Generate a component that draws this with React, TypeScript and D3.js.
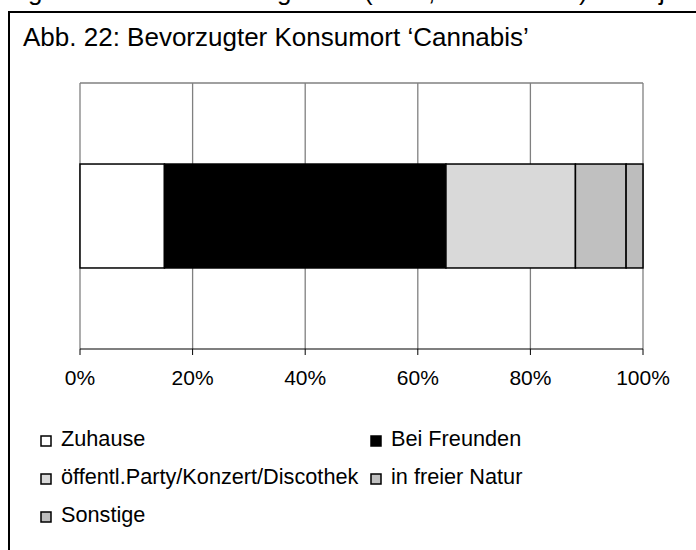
import { useMemo } from "react";
import * as d3 from "d3";

const WIDTH = 696;
const HEIGHT = 550;
const MARGIN = { top: 83, right: 53, bottom: 201, left: 80 };

const TITLE = "Abb. 22: Bevorzugter Konsumort \u2018Cannabis\u2019";
const CATEGORY = ["Cannabis"];
const SERIES = [
  "Zuhause",
  "Bei Freunden",
  "öffentl.Party/Konzert/Discothek",
  "in freier Natur",
  "Sonstige",
];
const VALUES = [15, 50, 23, 9, 3];
const COLORS = ["#ffffff", "#000000", "#d9d9d9", "#c0c0c0", "#bdbdbd"];
const X_TICKS = [0, 20, 40, 60, 80, 100];

// bits of the line above the frame that peek in at the top edge
const CLIPPED_GLYPHS = [
  { ch: "g", x: 28 },
  { ch: "g", x: 277 },
  { ch: "(", x: 364 },
  { ch: ",", x: 428 },
  { ch: ")", x: 579 },
  { ch: "j", x: 659 },
];

const FONT = "'Liberation Sans', Arial, sans-serif";

const App = () => {
  const boundsWidth = WIDTH - MARGIN.left - MARGIN.right;
  const boundsHeight = HEIGHT - MARGIN.top - MARGIN.bottom;

  const xScale = useMemo(
    () => d3.scaleLinear().domain([0, 100]).range([0, boundsWidth]),
    [boundsWidth]
  );
  const yScale = useMemo(
    () => d3.scaleBand().domain(CATEGORY).range([0, boundsHeight]).padding(0.438),
    [boundsHeight]
  );

  // stack the shares left to right
  const segments = useMemo(() => {
    const row: Record<string, number> = {};
    SERIES.forEach((s, i) => (row[s] = VALUES[i]));
    const stack = d3.stack<Record<string, number>>().keys(SERIES);
    return stack([row]).map((layer, i) => ({
      key: SERIES[i],
      x0: layer[0][0],
      x1: layer[0][1],
      color: COLORS[i],
    }));
  }, []);

  const barY = yScale(CATEGORY[0]) ?? 0;
  const barH = yScale.bandwidth();

  const legendCols = [41, 371];
  const legendRows = [446, 484, 522];

  return (
    <svg
      width={WIDTH}
      height={HEIGHT}
      style={{ position: "absolute", left: 0, top: 0, background: "#fff" }}
      fontFamily={FONT}
    >
      <rect x={0} y={0} width={WIDTH} height={HEIGHT} fill="#fff" />
      <text fontSize={26} fill="#000">
        {CLIPPED_GLYPHS.map((g, i) => (
          <tspan key={i} x={g.x} y={0}>
            {g.ch}
          </tspan>
        ))}
      </text>

      {/* outer frame, cut off at the right and bottom */}
      <rect x={9} y={12} width={WIDTH + 20} height={HEIGHT + 20} fill="none" stroke="#000" strokeWidth={2} />

      <text x={23} y={46} fontSize={26} fill="#000">
        {TITLE}
      </text>

      <g transform={`translate(${MARGIN.left},${MARGIN.top})`}>
        {/* plot frame + grid */}
        <line x1={0} x2={boundsWidth} y1={0} y2={0} stroke="#808080" strokeWidth={1.5} />
        {X_TICKS.map((t) => (
          <line
            key={t}
            x1={xScale(t)}
            x2={xScale(t)}
            y1={0}
            y2={boundsHeight}
            stroke="#808080"
            strokeWidth={1.3}
          />
        ))}

        {segments.map((s) => (
          <rect
            key={s.key}
            x={xScale(s.x0)}
            y={barY}
            width={xScale(s.x1) - xScale(s.x0)}
            height={barH}
            fill={s.color}
            stroke="#000"
            strokeWidth={1.5}
          />
        ))}

        {/* x axis */}
        <line x1={0} x2={boundsWidth} y1={boundsHeight} y2={boundsHeight} stroke="#000" strokeWidth={1.2} />
        {X_TICKS.map((t) => (
          <g key={t} transform={`translate(${xScale(t)},${boundsHeight})`}>
            <line y1={0} y2={6} stroke="#000" strokeWidth={1} />
            <text y={36} textAnchor="middle" fontSize={21} fill="#000">
              {`${t}%`}
            </text>
          </g>
        ))}
      </g>

      {SERIES.map((s, i) => {
        const x = legendCols[i % 2];
        const y = legendRows[Math.floor(i / 2)];
        return (
          <g key={s}>
            <rect x={x} y={y - 10} width={10} height={10} fill={COLORS[i]} stroke="#000" strokeWidth={1.5} />
            <text x={x + 20} y={y} fontSize={21.7} fill="#000">
              {s}
            </text>
          </g>
        );
      })}
    </svg>
  );
};

export default App;
